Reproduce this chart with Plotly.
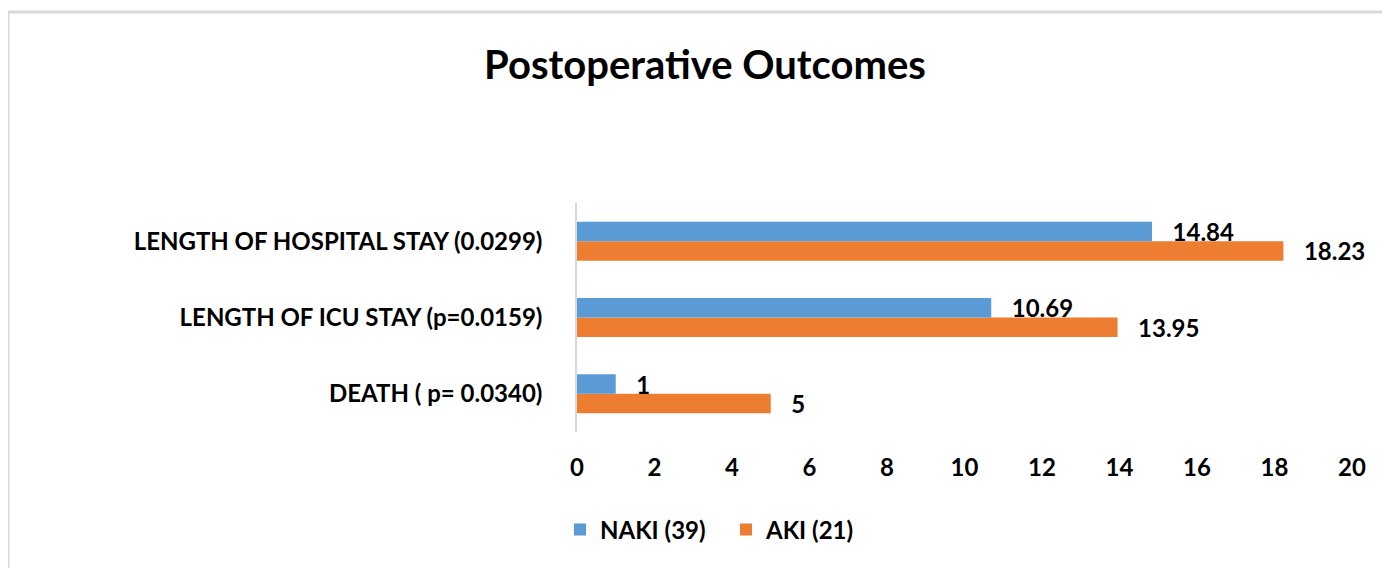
import plotly.graph_objects as go

categories = ["DEATH ( p= 0.0340)", "LENGTH OF ICU STAY (p=0.0159)", "LENGTH OF HOSPITAL STAY (0.0299)"]
naki_values = [1, 10.69, 14.84]
aki_values = [5, 13.95, 18.23]
naki_labels = ["1", "10.69", "14.84"]
aki_labels = ["5", "13.95", "18.23"]
x_ticks = [0, 2, 4, 6, 8, 10, 12, 14, 16, 18, 20]

FONT = "Lato"
W, H = 1390, 568
OFF = 8  # page body margin offset
L, R, T, B = 577 - OFF, 38 + OFF, 203 - OFF, 136 + OFF

fig = go.Figure()
fig.add_trace(go.Bar(
    y=categories, x=aki_values, orientation="h", name="AKI (21)",
    marker=dict(color="#ED7D31", line=dict(width=0)),
    text=["   " + t for t in aki_labels], textposition="outside",
    textfont=dict(family=FONT, size=24, color="#000000", weight="bold"),
    constraintext="none", cliponaxis=False,
))
fig.add_trace(go.Bar(
    y=categories, x=naki_values, orientation="h", name="NAKI (39)",
    marker=dict(color="#5B9BD5", line=dict(width=0)),
    text=["   " + t for t in naki_labels], textposition="outside",
    textfont=dict(family=FONT, size=24, color="#000000", weight="bold"),
    constraintext="none", cliponaxis=False,
))

pw = W - L - R
ph = H - T - B
def px_to_paper_x(px):
    return (px - OFF - L) / pw
def px_to_paper_y(py):
    return (H - B - (py - OFF)) / ph

fig.update_layout(
    width=W, height=H,
    margin=dict(l=L, r=R, t=T, b=B, pad=0),
    paper_bgcolor="white", plot_bgcolor="white",
    barmode="group", bargap=0.49, bargroupgap=0,
    title=dict(text="<b>Postoperative Outcomes</b>", x=(705 - OFF) / W, xanchor="center",
               y=1 - (65 - OFF) / H, yanchor="middle", yref="container",
               font=dict(family=FONT, size=40, color="#000000")),
    xaxis=dict(range=[0, 20], tickvals=x_ticks, showgrid=False, zeroline=False,
               showline=False, ticks="", ticklabelstandoff=19,
               tickfont=dict(family=FONT, size=24, color="#000000", weight="bold")),
    yaxis=dict(showgrid=False, zeroline=False, showline=True, linecolor="#D9D9D9",
               linewidth=1.5, ticks="", ticklabelstandoff=28,
               categoryorder="array", categoryarray=categories,
               tickfont=dict(family=FONT, size=24, color="#000000", weight="bold")),
    legend=dict(orientation="h", traceorder="reversed",
                x=px_to_paper_x(560), xanchor="left",
                y=px_to_paper_y(530), yanchor="middle",
                font=dict(family=FONT, size=24, color="#000000", weight="bold"),
                entrywidth=121, entrywidthmode="pixels",
                bgcolor="rgba(0,0,0,0)"),
    showlegend=True,
)

# outer chart frame (top and left edges)
fx0 = px_to_paper_x(8)
fy0 = px_to_paper_y(12)
fig.add_shape(type="line", xref="paper", yref="paper", x0=fx0, y0=fy0,
              x1=px_to_paper_x(W + 20), y1=fy0, line=dict(color="#D9D9D9", width=3))
fig.add_shape(type="line", xref="paper", yref="paper", x0=fx0, y0=fy0,
              x1=fx0, y1=px_to_paper_y(H + 20), line=dict(color="#D9D9D9", width=3))

fig.write_html("out.html")
